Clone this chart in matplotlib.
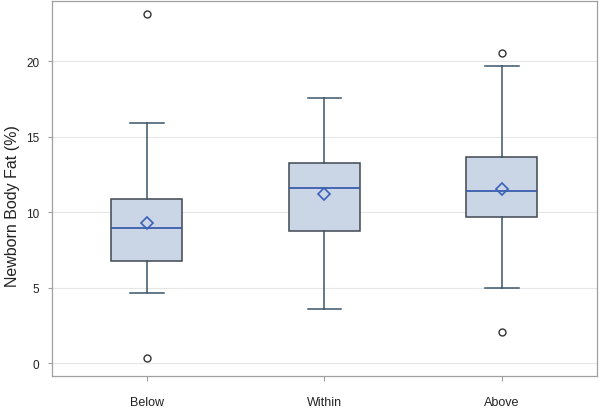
import matplotlib
matplotlib.use("Agg")
import matplotlib.pyplot as plt

# -----------------------------
# Data
# -----------------------------
groups = ["Below", "Within", "Above"]
whisker_low = [4.64, 3.60, 4.99]
q1 = [6.80, 8.78, 9.67]
median = [8.96, 11.61, 11.41]
q3 = [10.88, 13.26, 13.66]
whisker_high = [15.90, 17.59, 19.70]
means = [9.29, 11.21, 11.52]
outliers = [[23.1, 0.37], [], [20.55, 2.09]]

yticks = [0, 5, 10, 15, 20]

# -----------------------------
# Build box stats
# -----------------------------
stats = []
for i, name in enumerate(groups):
    stats.append({
        "label": name,
        "whislo": whisker_low[i],
        "q1": q1[i],
        "med": median[i],
        "q3": q3[i],
        "whishi": whisker_high[i],
        "mean": means[i],
        "fliers": outliers[i],
    })

plt.rcParams["font.family"] = ["Liberation Sans", "DejaVu Sans"]

fig = plt.figure(figsize=(6.0, 4.14), dpi=100)
ax = fig.add_axes([0.0867, 0.0894, 0.908, 0.906])

edge = "#3f4852"
whisk = "#3b5568"
blue = "#2f54a8"

ax.bxp(stats, positions=range(len(groups)), widths=0.4, patch_artist=True,
       showmeans=True, showfliers=True,
       boxprops=dict(facecolor="#cad5e6", edgecolor=edge, linewidth=1.1),
       medianprops=dict(color=blue, linewidth=1.2),
       whiskerprops=dict(color=whisk, linewidth=1.1),
       capprops=dict(color=whisk, linewidth=1.1),
       capwidths=0.19,
       meanprops=dict(marker="D", markerfacecolor="none", markeredgecolor="#3a62b8",
                      markersize=6.5, markeredgewidth=1.2),
       flierprops=dict(marker="o", markerfacecolor="none", markeredgecolor="#333333",
                       markersize=5, markeredgewidth=1.0))

ax.set_xlim(-0.535, 2.535)
ax.set_ylim(-0.84, 24.0)
ax.set_yticks(yticks)
ax.set_yticklabels([str(t) for t in yticks])
ax.set_xticks(range(len(groups)))
ax.set_xticklabels(groups)

ax.grid(axis="y", color="#e6e6e6", linewidth=0.8)
ax.set_axisbelow(True)

for s in ax.spines.values():
    s.set_color("#a0a0a0")
    s.set_linewidth(0.9)

ax.tick_params(axis="y", length=3, width=0.8, color="#a0a0a0", labelsize=8.5,
               labelcolor="#222222", pad=6)
ax.tick_params(axis="x", length=3.5, width=0.8, color="#a0a0a0", labelsize=9,
               labelcolor="#222222", pad=11)

ax.set_ylabel("Newborn Body Fat (%)", fontsize=11.5, color="#222222")
ax.yaxis.set_label_coords(-0.058, 0.455)

fig.savefig("out.png", dpi=100)
